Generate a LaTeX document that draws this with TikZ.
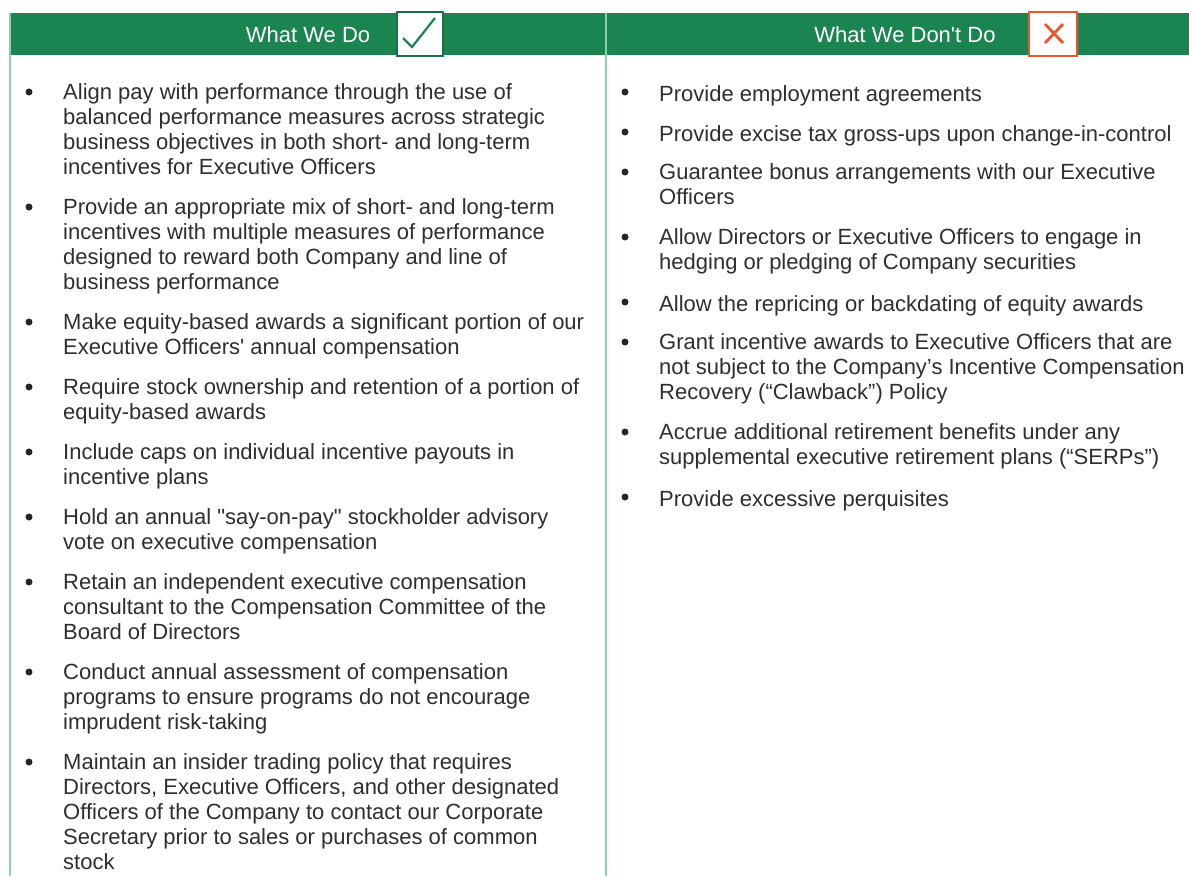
\documentclass[tikz,border=0pt]{standalone}
\usepackage{fontspec}
\setmainfont{Liberation Sans}
\usepackage{xcolor}
\definecolor{headgreen}{HTML}{1B8552}
\definecolor{linegreen}{HTML}{8CCDAA}
\definecolor{boxgreen}{HTML}{17704A}
\definecolor{crossred}{HTML}{EB5530}
\definecolor{bodytext}{HTML}{2E2E2E}

\begin{document}
\begin{tikzpicture}[x=1pt,y=-1pt,
    item/.style={anchor=north west,inner sep=0pt,align=left,text=bodytext,
      font=\fontsize{22}{25}\selectfont,execute at begin node=\strut},
    dot/.style={circle,fill=black!85,inner sep=0pt,minimum size=7pt},
    head/.style={anchor=base,text=white,font=\fontsize{22}{25}\selectfont}]
            \useasboundingbox (0,0) rectangle (1189,876);
            % header bar and column lines
            \fill[headgreen] (10,13) rectangle (1189,55);
            \draw[linegreen,line width=1.5pt] (10,13) -- (10,876);
            \draw[linegreen,line width=1.5pt] (606,13) -- (606,876);
            \node (dohead) at (308,42) [head] {What We Do};
            \node (donthead) at (905,42) [head] {What We Don\textquotesingle t Do};
            \node (checkbox) at (420,34) [draw=boxgreen,fill=white,line width=2pt,minimum width=46pt,minimum height=44pt] {};
            \draw[headgreen,line width=2.2pt] (403,38) -- (412,47) -- (435,18);
            \node (crossbox) at (1053,34) [draw=crossred,fill=white,line width=2pt,minimum width=48pt,minimum height=44pt] {};
            \draw[crossred,line width=2.8pt] (1045,24) -- (1063,43) (1063,24) -- (1045,43);
            % what we do
            \node (d1) at (63,83.5) [item] {Align pay with performance through the use of\\balanced performance measures across strategic\\business objectives in both short- and long-term\\incentives for Executive Officers};
            \node (d2) at (63,198.5) [item] {Provide an appropriate mix of short- and long-term\\incentives with multiple measures of performance\\designed to reward both Company and line of\\business performance};
            \node (d3) at (63,313.5) [item] {Make equity-based awards a significant portion of our\\Executive Officers\textquotesingle\ annual compensation};
            \node (d4) at (63,378.5) [item] {Require stock ownership and retention of a portion of\\equity-based awards};
            \node (d5) at (63,443.5) [item] {Include caps on individual incentive payouts in\\incentive plans};
            \node (d6) at (63,508.5) [item] {Hold an annual \textquotedbl say-on-pay\textquotedbl\ stockholder advisory\\vote on executive compensation};
            \node (d7) at (63,573.5) [item] {Retain an independent executive compensation\\consultant to the Compensation Committee of the\\Board of Directors};
            \node (d8) at (63,663.5) [item] {Conduct annual assessment of compensation\\programs to ensure programs do not encourage\\imprudent risk-taking};
            \node (d9) at (63,753.5) [item] {Maintain an insider trading policy that requires\\Directors, Executive Officers, and other designated\\Officers of the Company to contact our Corporate\\Secretary prior to sales or purchases of common\\stock};
            \foreach \y/\n in {92/1,207/2,322/3,387/4,452/5,517/6,582/7,672/8,762/9}
              \node (db\n) at (29,\y) [dot] {};
            % what we don't do
            \node (n1) at (659,83.5) [item] {Provide employment agreements};
            \node (n2) at (659,123.5) [item] {Provide excise tax gross-ups upon change-in-control};
            \node (n3) at (659,163.5) [item] {Guarantee bonus arrangements with our Executive\\Officers};
            \node (n4) at (659,228.5) [item] {Allow Directors or Executive Officers to engage in\\hedging or pledging of Company securities};
            \node (n5) at (659,293.5) [item] {Allow the repricing or backdating of equity awards};
            \node (n6) at (659,333.5) [item] {Grant incentive awards to Executive Officers that are\\not subject to the Company’s Incentive Compensation\\Recovery (“Clawback”) Policy};
            \node (n7) at (659,423.5) [item] {Accrue additional retirement benefits under any\\supplemental executive retirement plans (“SERPs”)};
            \node (n8) at (659,488.5) [item] {Provide excessive perquisites};
            \foreach \y/\n in {92/1,132/2,172/3,237/4,302/5,342/6,432/7,497/8}
              \node (nb\n) at (625,\y) [dot] {};
        \end{tikzpicture}
\end{document}
